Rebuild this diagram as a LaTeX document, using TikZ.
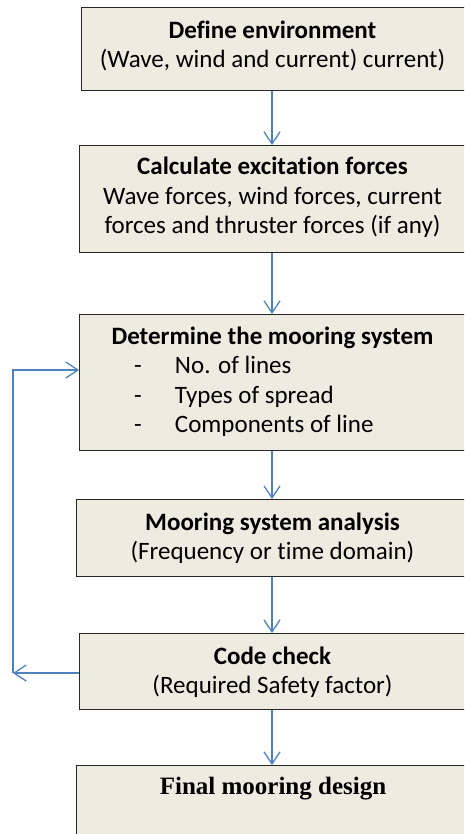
\documentclass[tikz,border=0pt]{standalone}
\usepackage{fontspec}
\setmainfont{Carlito}[Ligatures=NoCommon]
\newfontfamily\timesf{Liberation Serif}
\usetikzlibrary{arrows.meta}
\definecolor{boxfill}{HTML}{EEECE1}
\definecolor{boxline}{HTML}{262626}
\definecolor{arrblue}{HTML}{4F81BD}
\begin{document}
\begin{tikzpicture}[x=1pt,y=-1pt,
  box/.style={draw=boxline, line width=1.4pt, fill=boxfill, anchor=north west,
    inner sep=0pt},
  txt/.style={align=center, inner sep=0pt, font=\fontsize{25}{29.5}\selectfont},
  arr/.style={draw=arrblue, line width=1.3pt,
    -{Straight Barb[length=12pt,width=16pt,line width=1.3pt]}}]
\useasboundingbox (0,0) rectangle (464,834);
\begin{scope}
\clip (0,0) rectangle (464,834);
\node[box, minimum width=391pt, minimum height=83pt] (b1) at (81,7) {};
\node[box, minimum width=393pt, minimum height=107pt] (b2) at (79,145) {};
\node[box, minimum width=393pt, minimum height=136pt] (b3) at (79,314) {};
\node[box, minimum width=396pt, minimum height=77pt] (b4) at (76,499) {};
\node[box, minimum width=393pt, minimum height=76pt] (b5) at (79,633) {};
\node[box, minimum width=396pt, minimum height=100pt] (b6) at (76,765) {};
\end{scope}
\node[txt] (t1) at (272.5,46)
  {\textbf{Define environment}\\(Wave, wind and current) current)};
\node[txt] (t2) at (272.5,197.5)
  {\textbf{Calculate excitation forces}\\Wave forces, wind forces, current\\forces and thruster forces (if any)};
\node[txt] (t3) at (272.5,381.5)
  {\textbf{Determine the mooring system}\\
   \makebox[277pt][l]{\makebox[41pt][l]{-}No. of lines}\\
   \makebox[277pt][l]{\makebox[41pt][l]{-}Types of spread}\\
   \makebox[277pt][l]{\makebox[41pt][l]{-}Components of line}};
\node[txt] (t4) at (272.5,538)
  {\textbf{Mooring system analysis}\\(Frequency or time domain)};
\node[txt] (t5) at (272.5,672)
  {\textbf{Code check}\\(Required Safety factor)};
\node[font=\timesf\bfseries\fontsize{25}{29.5}\selectfont, inner sep=0pt] (t6) at (273,789) {Final mooring design};
\coordinate (ax) at (272,0);
\coordinate (c1) at (13,673);
\coordinate (c2) at (13,370);
\draw[arr] (b1.south -| ax) -- (b2.north -| ax);
\draw[arr] (b2.south -| ax) -- (b3.north -| ax);
\draw[arr] (b3.south -| ax) -- (b4.north -| ax);
\draw[arr] (b4.south -| ax) -- (b5.north -| ax);
\draw[arr] (b5.south -| ax) -- (b6.north -| ax);
\draw[arr] (b5.west |- c1) -- (c1);
\draw[arr] (c1) -- (c2) -- (c2 -| b3.west);
\end{tikzpicture}
\end{document}
